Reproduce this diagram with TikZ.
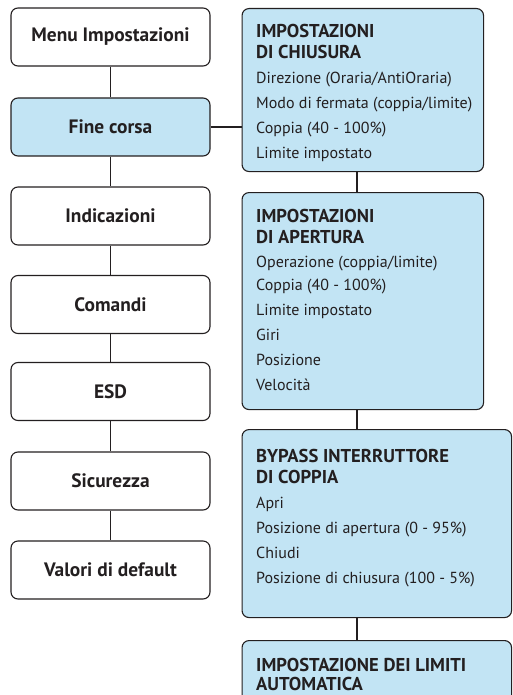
\documentclass[tikz,border=0pt]{standalone}
\usepackage{fontspec}
\setmainfont{PT Sans}
\definecolor{boxblue}{RGB}{194,228,244}
\definecolor{ink}{RGB}{35,31,32}
\begin{document}
\begin{tikzpicture}[x=1pt,y=-1pt,
  menubox/.style={draw=ink, line width=1.1pt, rounded corners=7pt, minimum width=199pt, minimum height=58pt, inner sep=0pt, font=\fontsize{19.4}{22}\selectfont\bfseries, text=ink},
  activebox/.style={menubox, fill=boxblue},
  panel/.style={draw=ink, line width=1.1pt, rounded corners=7pt, fill=boxblue, anchor=north west, inner sep=0pt},
  head/.style={anchor=base west, inner sep=0pt, font=\fontsize{18.6}{21}\selectfont\bfseries, text=ink},
  item/.style={anchor=base west, inner sep=0pt, font=\fontsize{16}{19}\selectfont, text=ink},
  link/.style={draw=ink, line width=1.1pt}]
\clip (0,0) rectangle (512,695);
% left column
\node[menubox]   (menu) at (110.5,37)  {Menu Impostazioni};
\node[activebox] (fine) at (110.5,127) {Fine corsa};
\node[menubox]   (ind)  at (110.5,216) {Indicazioni};
\node[menubox]   (com)  at (110.5,304.5) {Comandi};
\node[menubox]   (esd)  at (110.5,391.5) {ESD};
\node[menubox]   (sic)  at (110.5,481) {Sicurezza};
\node[menubox]   (val)  at (110.5,570) {Valori di default};
\draw[link] (menu.south) -- (fine.north);
\draw[link] (fine.south) -- (ind.north);
\draw[link] (ind.south) -- (com.north);
\draw[link] (com.south) -- (esd.north);
\draw[link] (esd.south) -- (sic.north);
\draw[link] (sic.south) -- (val.north);
% right panels
\node[panel, minimum width=241.5pt, minimum height=163pt] (p1) at (241.5,8) {};
\node[panel, minimum width=241.5pt, minimum height=217pt] (p2) at (241.5,192) {};
\node[panel, minimum width=269.5pt, minimum height=188pt] (p3) at (241.5,429) {};
\node[panel, minimum width=269.5pt, minimum height=120pt] (p4) at (241.5,640) {};
\coordinate (vx) at (357,0);
\draw[link] (fine.east) -- (fine.east -| p1.west);
\draw[link] (p1.south -| vx) -- (p2.north -| vx);
\draw[link] (p2.south -| vx) -- (p3.north -| vx);
\draw[link] (p3.south -| vx) -- (p4.north -| vx);
% panel 1 text
\node[head] (h11) at (256,38)   {IMPOSTAZIONI};
\node[head] (h12) at (256,59)   {DI CHIUSURA};
\node[item] (i11) at (256,84)   {Direzione (Oraria/AntiOraria)};
\node[item] (i12) at (256,109)  {Modo di fermata (coppia/limite)};
\node[item] (i13) at (256,134)  {Coppia (40 - 100\%)};
\node[item] (i14) at (256,159)  {Limite impostato};
% panel 2 text
\node[head] (h21) at (256,222)  {IMPOSTAZIONI};
\node[head] (h22) at (256,243)  {DI APERTURA};
\node[item] (i21) at (256,267)  {Operazione (coppia/limite)};
\node[item] (i22) at (256,290)  {Coppia (40 - 100\%)};
\node[item] (i23) at (256,315)  {Limite impostato};
\node[item] (i24) at (256,340)  {Giri};
\node[item] (i25) at (256,365)  {Posizione};
\node[item] (i26) at (256,390)  {Velocità};
% panel 3 text
\node[head] (h31) at (256,462)  {BYPASS INTERRUTTORE};
\node[head] (h32) at (256,483)  {DI COPPIA};
\node[item] (i31) at (256,508)  {Apri};
\node[item] (i32) at (256,533)  {Posizione di apertura (0 - 95\%)};
\node[item] (i33) at (256,558)  {Chiudi};
\node[item] (i34) at (256,583)  {Posizione di chiusura (100 - 5\%)};
% panel 4 text
\node[head] (h41) at (256,671)  {IMPOSTAZIONE DEI LIMITI};
\node[head] (h42) at (256,690.5)  {AUTOMATICA};
\end{tikzpicture}
\end{document}
